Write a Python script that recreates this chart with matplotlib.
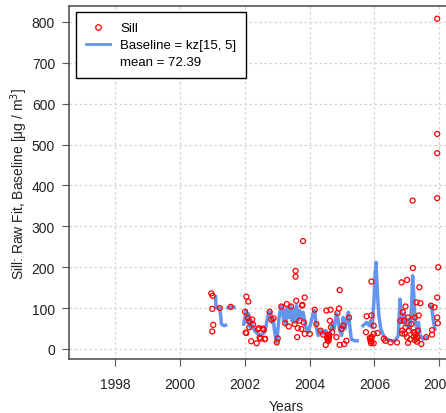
import numpy as np
import matplotlib.pyplot as plt
from matplotlib.lines import Line2D

plt.rcParams['font.family'] = ['Liberation Sans', 'DejaVu Sans']

# raw sill values (decimal year, value)
sill_years = [2000.97, 2001.01, 2001.00, 2001.03, 2001.00, 2001.23, 2001.57,
              2002.05, 2002.11, 2002.01, 2002.10, 2002.23, 2002.14, 2002.05, 2002.03,
              2002.20, 2002.37, 2002.44, 2002.59, 2002.49, 2002.63, 2002.77, 2002.82,
              2002.89, 2002.99, 2003.02, 2003.13, 2003.25, 2003.30, 2003.36, 2003.43,
              2003.54, 2003.59, 2003.62, 2003.64, 2003.77, 2003.69, 2003.57, 2003.57,
              2003.80, 2003.85, 2003.78, 2004.16, 2004.52, 2004.65, 2004.91, 2004.86,
              2005.22, 2005.76, 2005.91, 2003.82, 2003.75, 2003.85, 2004.01, 2004.21,
              2004.34, 2004.42, 2004.63, 2004.66, 2004.70, 2004.61,
              2004.54, 2004.56, 2004.57, 2004.58, 2004.59, 2004.56, 2004.60,
              2004.50, 2004.83, 2004.93, 2005.07, 2004.99, 2005.04, 2005.14, 2004.93,
              2005.74, 2005.86, 2005.88, 2005.90, 2005.91, 2005.92, 2005.90,
              2005.91, 2005.98, 2005.98, 2005.98, 2006.10, 2006.29, 2006.34, 2006.50,
              2006.70, 2006.86, 2006.94, 2007.01, 2007.04, 2007.11,
              2007.22, 2007.25, 2007.27, 2007.29, 2007.31, 2007.24, 2007.33,
              2007.45, 2007.60, 2007.78, 2007.34, 2007.19, 2007.97, 2007.01, 2006.84,
              2007.39, 2007.30, 2007.42, 2007.94, 2007.75, 2007.86, 2007.94, 2006.96,
              2006.88, 2007.37, 2007.25, 2006.80, 2006.91, 2007.04, 2007.14, 2006.96,
              2006.86, 2007.06, 2007.22, 2007.94, 2007.94, 2007.94, 2007.94, 2007.18,
              2007.78, 2007.96, 2002.15, 2002.26, 2002.41, 2002.56, 2002.46, 2002.62]
sill_values = [136, 130, 98, 59, 43, 100, 103,
               128, 116, 91, 76, 72, 53, 39, 40,
               19, 14, 51, 47, 25, 25, 91, 72,
               75, 16, 26, 104, 63, 110, 55, 104,
               61, 118, 29, 51, 106, 69, 191, 177,
               264, 126, 108, 96, 94, 96, 99, 88,
               77, 80, 82, 65, 49, 37, 37, 61,
               45, 35, 69, 53, 41, 33,
               28, 22, 30, 25, 20, 35, 27,
               10, 29, 10, 12, 49, 57, 20, 144,
               41, 27, 20, 25, 18, 30, 14,
               165, 57, 37, 14, 39, 25, 20, 16,
               16, 38, 37, 29, 15, 24,
               30, 22, 35, 25, 18, 40, 28,
               12, 29, 35, 45, 198, 200, 169, 163,
               151, 114, 112, 126, 106, 102, 77, 104,
               90, 82, 77, 69, 69, 77, 61, 53,
               45, 45, 41, 808, 526, 479, 369, 363,
               46, 63, 68, 60, 48, 50, 28, 24]

# kz[15, 5] baseline, NaN marks gaps
base_years = [2001.10, 2001.12, 2001.23, 2001.26, 2001.28, 2001.37, 2001.41, np.nan,
              2001.49, 2001.58, 2001.67, np.nan,
              2001.97, 2002.05, 2002.08, 2002.12, 2002.17, 2002.22, 2002.30, 2002.41,
              2002.51, 2002.61, 2002.66, 2002.74, 2002.80, 2002.84, 2002.88, 2002.92,
              2002.99, 2003.02, 2003.06, 2003.11, 2003.15, 2003.20, 2003.23, 2003.28,
              2003.31, 2003.36, 2003.40, 2003.46, 2003.51, 2003.55, 2003.60, 2003.64,
              2003.69, 2003.74, 2003.77, 2003.80, 2003.89, 2003.96, 2004.03, 2004.11,
              2004.16, 2004.21, 2004.27, 2004.34, 2004.42, 2004.50, 2004.57, 2004.65,
              2004.71, 2004.76, 2004.83, 2004.88, 2004.93, 2004.99, 2005.04, 2005.09,
              2005.14, 2005.20, 2005.24, 2005.29, 2005.40, 2005.47, np.nan,
              2005.65, 2005.76, 2005.84, 2005.89, 2005.93, 2005.95, 2005.99, 2006.02,
              2006.05, 2006.10, 2006.14, 2006.20, 2006.28, 2006.38, 2006.53, 2006.64,
              2006.74, 2006.79, 2006.82, 2006.86, 2006.92, 2006.99, 2007.05, 2007.10,
              2007.15, 2007.18, 2007.22, 2007.25, 2007.31, 2007.36, 2007.41, 2007.51,
              2007.62, np.nan,
              2007.72, 2007.77, 2007.82, 2007.87]
base_values = [128, 101, 100, 81, 61, 57, 58, np.nan,
               101, 103, 102, np.nan,
               61, 94, 65, 86, 53, 65, 45, 37,
               33, 41, 57, 90, 90, 65, 73, 45,
               16, 45, 77, 102, 106, 69, 94, 61,
               102, 77, 106, 69, 98, 65, 106, 69,
               94, 77, 86, 90, 53, 41, 61, 86,
               94, 53, 33, 45, 37, 45, 33, 41,
               65, 49, 86, 73, 45, 33, 77, 49,
               69, 90, 57, 24, 20, 20, np.nan,
               57, 65, 57, 69, 53, 77, 118, 179,
               212, 130, 81, 49, 33, 24, 20, 20,
               33, 122, 90, 65, 86, 57, 73, 49,
               106, 179, 130, 73, 49, 65, 33, 24,
               28, np.nan,
               106, 102, 69, 49]

mean_value = 72.39

fig = plt.figure(figsize=(4.46, 4.14), dpi=100)
# plot region runs past the right edge, as in the original
ax = fig.add_axes([69 / 446, 54 / 414, 435 / 446, 353 / 414])

ax.plot(base_years, base_values, color='#6495ED', lw=2.5, zorder=2)
ax.scatter(sill_years, sill_values, s=13, facecolors='none', edgecolors='red',
           linewidths=0.9, zorder=3)

ax.set_xlim(1996.58, 2010.0)
ax.set_ylim(-24.5, 839)
ax.set_xticks(np.arange(1998, 2011, 2))
ax.set_yticks(np.arange(0, 801, 100))
ax.grid(True, color='#d3d3d3', linestyle=(0, (2, 2)), lw=0.9)
ax.set_axisbelow(True)

for s in ax.spines.values():
    s.set_color('#555555')
    s.set_linewidth(1.2)
ax.tick_params(direction='out', length=5, color='#555555', labelsize=10,
               labelcolor='#222222')
ax.tick_params(axis='x', pad=8)
ax.tick_params(axis='y', pad=5)

ax.set_xlabel('Years', fontsize=10, color='#222222', labelpad=6)
ax.set_ylabel('Sill: Raw Fit, Baseline [μg / m$^3$]', fontsize=10,
              color='#222222', labelpad=1)

handles = [Line2D([], [], marker='o', ls='none', mfc='none', mec='red', ms=4, mew=0.9),
           Line2D([], [], color='#6495ED', lw=2),
           Line2D([], [], ls='none')]
labels = ['Sill', 'Baseline = kz[15, 5]', 'mean = %.2f' % mean_value]
leg = ax.legend(handles, labels, loc='upper left', bbox_to_anchor=(76 / 446, 1 - 13 / 414),
                bbox_transform=fig.transFigure, fancybox=False, framealpha=1,
                edgecolor='black', fontsize=9.5, borderpad=0.75, labelspacing=0.36,
                handlelength=1.8, handletextpad=0.8, borderaxespad=0)
leg.get_frame().set_linewidth(1.0)

fig.savefig('out.png', dpi=100)
